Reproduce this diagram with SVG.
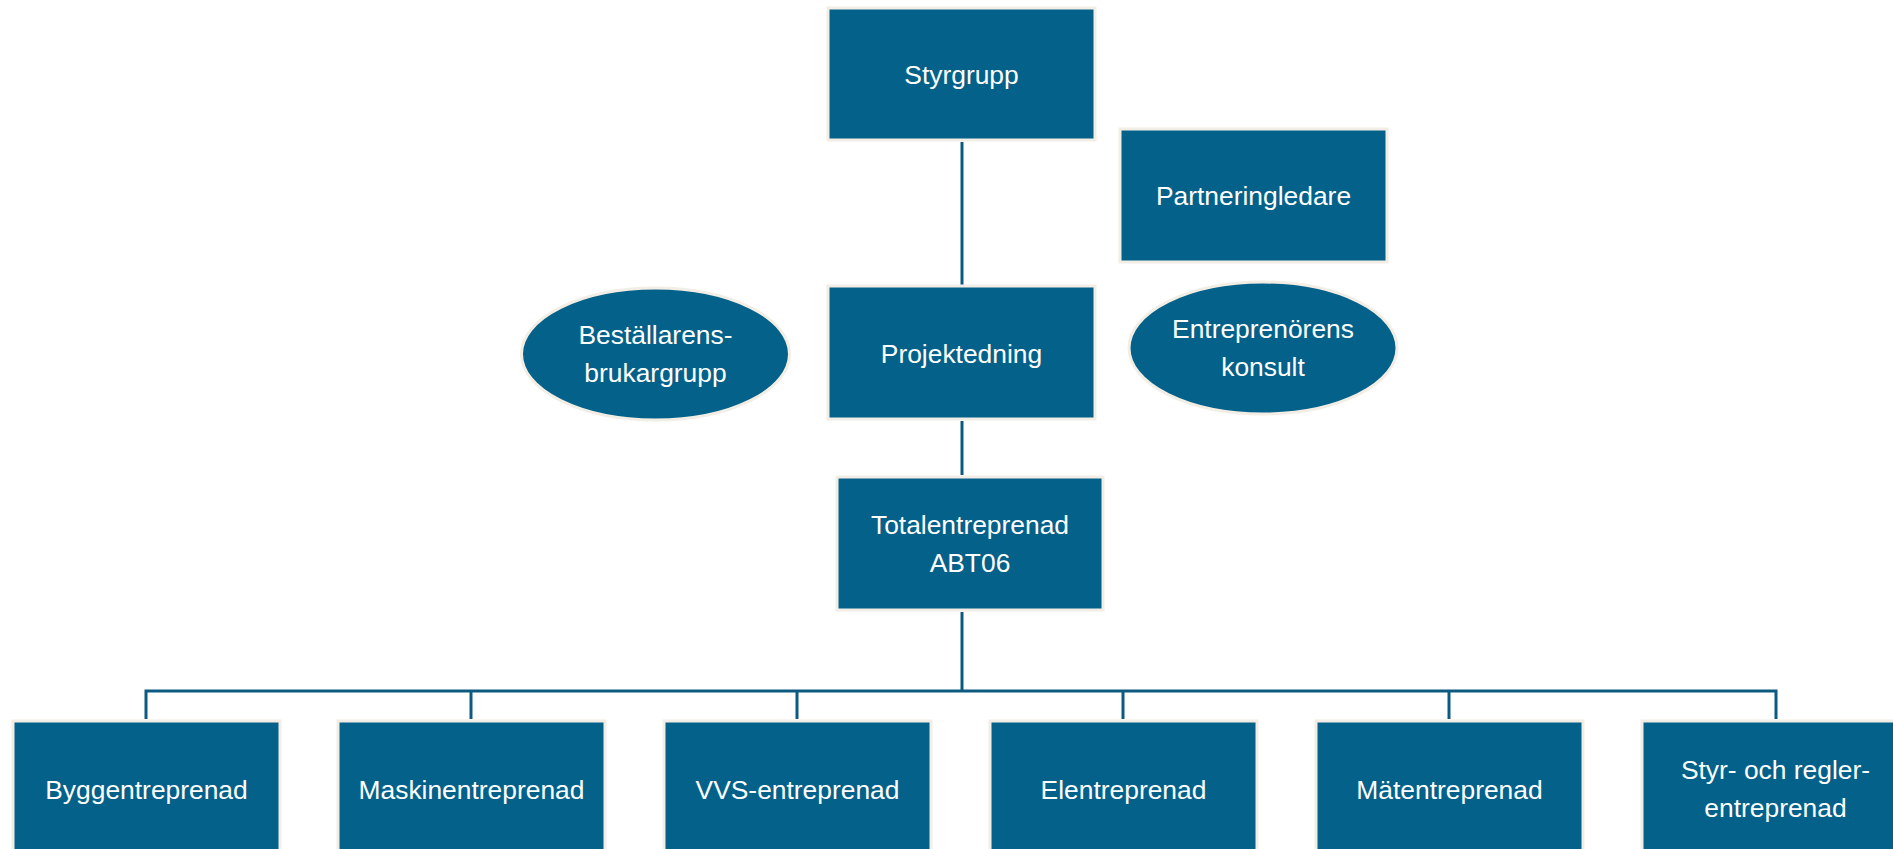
<svg xmlns="http://www.w3.org/2000/svg" width="1893" height="849" viewBox="0 0 1893 849">
<style>
.box{fill:#03618a;stroke:#f3eee5;stroke-width:3}
.t{fill:#ffffff;font-family:"Liberation Sans",Arial,sans-serif;font-size:26.4px;text-anchor:middle;dominant-baseline:central}
.c{stroke:#0d5a80;stroke-width:3;fill:none}
</style>
<rect width="1893" height="849" fill="#ffffff"/>
<g id="connectors">
<line class="c" x1="962" y1="142" x2="962" y2="285"/>
<line class="c" x1="962" y1="421" x2="962" y2="475"/>
<line class="c" x1="962" y1="612" x2="962" y2="691"/>
<polyline class="c" points="146,719 146,691 1776,691 1776,719"/>
<line class="c" x1="471" y1="691" x2="471" y2="719"/>
<line class="c" x1="797" y1="691" x2="797" y2="719"/>
<line class="c" x1="1123" y1="691" x2="1123" y2="719"/>
<line class="c" x1="1449" y1="691" x2="1449" y2="719"/>
</g>
<g id="styrgrupp"><rect class="box" x="828" y="8" width="267" height="132"/><text class="t" x="961.5" y="75">Styrgrupp</text></g>
<g id="partneringledare"><rect class="box" x="1120" y="129" width="267" height="133"/><text class="t" x="1253.5" y="196">Partneringledare</text></g>
<g id="projektedning"><rect class="box" x="828" y="286" width="267" height="133"/><text class="t" x="961.5" y="354">Projektedning</text></g>
<g id="bestallarens"><ellipse class="box" cx="655.5" cy="354" rx="134" ry="66"/><text class="t" x="655.5" y="335">Beställarens-</text><text class="t" x="655.5" y="373">brukargrupp</text></g>
<g id="entreprenorens"><ellipse class="box" cx="1263" cy="348" rx="134" ry="66"/><text class="t" x="1263" y="329">Entreprenörens</text><text class="t" x="1263" y="367">konsult</text></g>
<g id="totalentreprenad"><rect class="box" x="837" y="477" width="266" height="133"/><text class="t" x="970" y="525">Totalentreprenad</text><text class="t" x="970" y="563">ABT06</text></g>
<g id="bygg"><rect class="box" x="13" y="721" width="267" height="140"/><text class="t" x="146.5" y="790">Byggentreprenad</text></g>
<g id="maskin"><rect class="box" x="338" y="721" width="267" height="140"/><text class="t" x="471.5" y="790">Maskinentreprenad</text></g>
<g id="vvs"><rect class="box" x="664" y="721" width="267" height="140"/><text class="t" x="797.5" y="790">VVS-entreprenad</text></g>
<g id="el"><rect class="box" x="990" y="721" width="267" height="140"/><text class="t" x="1123.5" y="790">Elentreprenad</text></g>
<g id="mat"><rect class="box" x="1316" y="721" width="267" height="140"/><text class="t" x="1449.5" y="790">Mätentreprenad</text></g>
<g id="styr"><rect class="box" x="1642" y="721" width="267" height="140"/><text class="t" x="1775.5" y="770">Styr- och regler-</text><text class="t" x="1775.5" y="808">entreprenad</text></g>
</svg>
